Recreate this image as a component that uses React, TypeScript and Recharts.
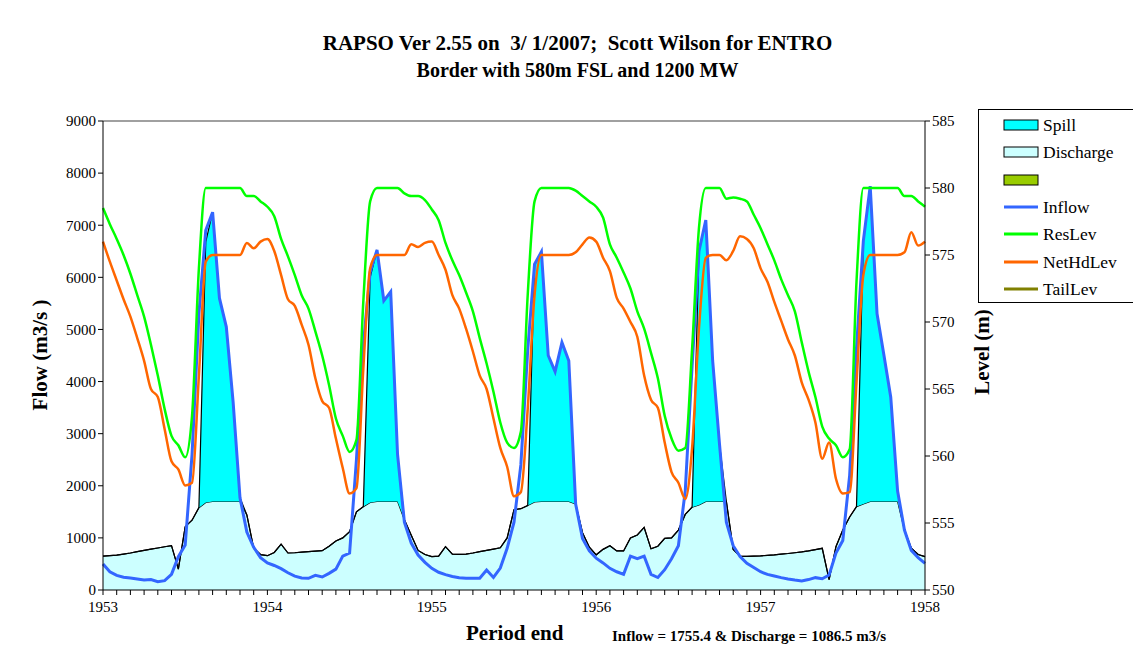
import React from 'react';
import { ComposedChart, Area, Line, XAxis, YAxis, ReferenceLine } from 'recharts';

// semi-monthly periods, 1953.0 .. 1958.0
const years = [1953, 1954, 1955, 1956, 1957, 1958];
const periodsPerYear = 24;

const flowTicks = [0, 1000, 2000, 3000, 4000, 5000, 6000, 7000, 8000, 9000];
const levelTicks = [550, 555, 560, 565, 570, 575, 580, 585];

// Inflow (m3/s)
const inflow = [
  500, 350, 280, 245, 230, 210, 190, 200, 160, 180, 300, 640, 864, 2600, 5300, 6900, 7250, 5600, 5050, 3600, 1770, 1110, 820, 620,
  520, 470, 410, 330, 265, 230, 225, 280, 250, 320, 400, 650, 710, 2500, 4700, 6100, 6525, 5550, 5725, 2600, 1300, 900, 672, 530,
  416, 340, 295, 260, 235, 224, 224, 224, 384, 240, 420, 800, 1300, 2400, 4600, 6250, 6490, 4500, 4190, 4750, 4400, 1650, 990, 750,
  610, 520, 416, 350, 300, 650, 600, 650, 300, 240, 390, 600, 850, 1900, 4300, 6500, 7100, 4400, 2800, 1300, 850, 640, 512, 430,
  350, 300, 270, 237, 210, 190, 173, 200, 237, 215, 288, 710, 950, 2200, 4640, 6700, 7750, 5300, 4510, 3700, 1900, 1150, 760, 620, 512,
];

// Turbine discharge (m3/s)
const discharge = [
  650, 660, 670, 690, 710, 735, 760, 785, 806, 830, 850, 400, 1215, 1340, 1580, 1680, 1700, 1700, 1700, 1700, 1700, 1440, 800, 680,
  658, 720, 880, 710, 715, 725, 735, 745, 755, 840, 940, 1000, 1119, 1500, 1600, 1680, 1700, 1700, 1700, 1700, 1350, 1050, 760, 680,
  640, 650, 832, 690, 685, 690, 710, 735, 760, 785, 810, 1000, 1540, 1560, 1620, 1690, 1700, 1700, 1700, 1700, 1700, 1650, 1100, 820,
  675, 780, 850, 750, 750, 1000, 1055, 1200, 790, 840, 990, 1000, 1150, 1450, 1590, 1630, 1700, 1700, 1700, 1700, 780, 650, 645, 650,
  655, 665, 675, 690, 700, 715, 730, 750, 775, 800, 200, 830, 1150, 1400, 1600, 1650, 1700, 1700, 1700, 1700, 1700, 1150, 800, 680, 640,
];

// Spill (m3/s)
const spill = [
  0, 0, 0, 0, 0, 0, 0, 0, 0, 0, 0, 0, 0, 0, 0, 5000, 5550, 3900, 3350, 1900, 70, 0, 0, 0,
  0, 0, 0, 0, 0, 0, 0, 0, 0, 0, 0, 0, 0, 0, 0, 4320, 4825, 3850, 4025, 900, 0, 0, 0, 0,
  0, 0, 0, 0, 0, 0, 0, 0, 0, 0, 0, 0, 0, 0, 0, 4560, 4790, 2800, 2490, 3050, 2700, 0, 0, 0,
  0, 0, 0, 0, 0, 0, 0, 0, 0, 0, 0, 0, 0, 0, 0, 4870, 5400, 2700, 1100, 0, 0, 0, 0, 0,
  0, 0, 0, 0, 0, 0, 0, 0, 0, 0, 0, 0, 0, 0, 0, 5050, 6050, 3600, 2810, 2000, 200, 0, 0, 0, 0,
];

// Reservoir level (m)
const resLev = [
  578.5, 577.3, 576.2, 575.0, 573.6, 572.0, 570.4, 568.3, 566.0, 563.5, 561.5, 560.8, 559.9, 563.0, 574.0, 580.0, 580.0, 580.0, 580.0, 580.0, 580.0, 579.4, 579.4, 579.0,
  578.6, 577.9, 576.2, 574.9, 573.5, 572.0, 571.0, 569.3, 567.5, 565.3, 562.8, 561.5, 560.3, 561.2, 571.5, 579.0, 580.0, 580.0, 580.0, 580.0, 579.6, 579.4, 579.4, 579.1,
  578.4, 577.6, 575.9, 574.6, 573.5, 572.2, 570.8, 568.8, 566.9, 564.8, 562.5, 561.0, 560.6, 561.8, 572.0, 579.0, 580.0, 580.0, 580.0, 580.0, 580.0, 579.8, 579.4, 579.0,
  578.6, 577.8, 575.8, 574.8, 573.7, 572.5, 570.8, 569.5, 567.7, 565.8, 563.0, 561.3, 560.4, 560.6, 568.0, 577.0, 580.0, 580.0, 580.0, 579.2, 579.3, 579.2, 579.0, 578.0,
  577.0, 575.8, 574.6, 573.2, 572.0, 570.8, 568.5, 566.3, 564.4, 562.2, 561.3, 560.8, 559.9, 560.5, 573.0, 580.0, 580.0, 580.0, 580.0, 580.0, 580.0, 579.4, 579.4, 579.0, 578.6,
];

// Net head level (m)
const netHdLev = [
  576.0, 574.5, 573.1, 571.7, 570.4, 568.8, 567.1, 565.0, 564.4, 562.0, 559.6, 559.0, 557.8, 558.0, 566.0, 574.5, 575.0, 575.0, 575.0, 575.0, 575.0, 575.9, 575.5, 576.0,
  576.2, 575.3, 573.5, 571.7, 571.2, 569.8, 568.3, 565.8, 564.1, 563.6, 561.3, 559.1, 557.2, 557.6, 566.5, 574.0, 575.0, 575.0, 575.0, 575.0, 575.0, 575.8, 575.6, 575.9,
  576.0, 575.0, 573.9, 572.0, 571.0, 569.5, 567.8, 566.0, 565.0, 562.8, 560.6, 559.2, 557.0, 557.3, 563.5, 572.0, 575.0, 575.0, 575.0, 575.0, 575.0, 575.2, 575.8, 576.3,
  576.0, 574.8, 573.8, 571.8, 571.0, 570.0, 568.9, 566.0, 564.2, 563.6, 561.0, 558.8, 558.0, 556.8, 560.6, 569.5, 574.8, 575.0, 575.0, 574.6, 575.3, 576.4, 576.2, 575.5,
  574.0, 573.0, 571.5, 570.1, 568.7, 567.5, 565.5, 564.2, 562.5, 559.8, 561.0, 558.3, 557.2, 557.3, 565.5, 573.5, 575.0, 575.0, 575.0, 575.0, 575.0, 575.2, 576.7, 575.7, 576.0,
];

const legendItems = [
  { name: 'Spill', kind: 'box', color: '#00FFFF' },
  { name: 'Discharge', kind: 'box', color: '#CCFFFF' },
  { name: '', kind: 'box', color: '#99CC00' },
  { name: 'Inflow', kind: 'line', color: '#3366FF' },
  { name: 'ResLev', kind: 'line', color: '#00FF00' },
  { name: 'NetHdLev', kind: 'line', color: '#FF6600' },
  { name: 'TailLev', kind: 'line', color: '#808000' },
];

const data = inflow.map((q, i) => ({
  t: years[0] + i / periodsPerYear,
  inflow: q,
  discharge: discharge[i],
  spill: spill[i],
  resLev: resLev[i],
  netHdLev: netHdLev[i],
}));

// monthly minor ticks, labels only on whole years
const monthTicks = Array.from({ length: (years.length - 1) * 12 + 1 }, (_, k) => years[0] + k / 12);

const FONT = '"Liberation Serif", "Times New Roman", serif';

const abs = (left: number, top: number): React.CSSProperties => ({
  position: 'absolute',
  left,
  top,
  fontFamily: FONT,
  color: '#000',
  whiteSpace: 'pre',
});

// serif tick text
const serifTick = (fmt: (v: number) => string) => (props: any) => {
  const { x, y, payload, textAnchor, verticalAnchor } = props;
  const dy = verticalAnchor === 'start' ? '0.71em' : verticalAnchor === 'end' ? '0' : '0.355em';
  return (
    <text x={x} y={y} dy={dy} textAnchor={textAnchor} fill="#000" fontSize={15} fontFamily={FONT} style={{ fontFamily: FONT }}>
      {fmt(payload.value)}
    </text>
  );
};

function Legend() {
  return (
    <div style={{ position: 'absolute', left: 978, top: 109, width: 170, height: 192, border: '1px solid #000', background: '#fff' }}>
      {legendItems.map((it, i) => {
        const cy = 15 + i * 27.3;
        return (
          <div key={i} style={{ position: 'absolute', left: 0, top: cy - 12, height: 24, width: 170 }}>
            <svg width={40} height={24} style={{ position: 'absolute', left: 23, top: 0 }}>
              {it.kind === 'box' ? (
                <rect x={2} y={7} width={34} height={10} fill={it.color} stroke="#000" strokeWidth={1} />
              ) : (
                <line x1={2} x2={36} y1={12} y2={12} stroke={it.color} strokeWidth={3} />
              )}
            </svg>
            <span style={{ position: 'absolute', left: 64, top: 1, fontFamily: FONT, fontSize: 17.5, lineHeight: '22px' }}>{it.name}</span>
          </div>
        );
      })}
    </div>
  );
}

export default function App() {
  return (
    <div style={{ position: 'fixed', left: 0, top: 0, width: 1133, height: 672, overflow: 'hidden', background: '#fff', fontFamily: FONT }}>
      <div style={{ ...abs(11, 33), width: 1133, textAlign: 'center', fontSize: 21, lineHeight: '20px', fontWeight: 'bold' }}>
        {'RAPSO Ver 2.55 on  3/ 1/2007;  Scott Wilson for ENTRO'}
      </div>
      <div style={{ ...abs(11, 60), width: 1133, textAlign: 'center', fontSize: 20, lineHeight: '20px', fontWeight: 'bold' }}>
        {'Border with 580m FSL and 1200 MW'}
      </div>

      <ComposedChart width={1133} height={672} data={data} margin={{ top: 121, right: 158, bottom: 52, left: 43 }}>
        <XAxis
          dataKey="t"
          type="number"
          domain={[years[0], years[years.length - 1]]}
          ticks={monthTicks}
          interval={0}
          tick={serifTick((v) => (Number.isInteger(v) ? String(v) : ''))}
          tickSize={5}
          tickMargin={6}
          stroke="#000"
          height={30}
        />
        <YAxis
          yAxisId="flow"
          domain={[0, 9000]}
          ticks={flowTicks}
          interval={0}
          tick={serifTick((v) => String(v))}
          tickSize={5}
          stroke="#000"
          width={60}
        />
        <YAxis
          yAxisId="lev"
          orientation="right"
          domain={[550, 585]}
          ticks={levelTicks}
          interval={0}
          allowDataOverflow
          tick={serifTick((v) => String(v))}
          tickSize={5}
          stroke="#000"
          width={50}
        />
        <ReferenceLine yAxisId="flow" y={9000} stroke="#808080" strokeWidth={1.5} />
        <Area yAxisId="flow" type="linear" dataKey="discharge" stackId="q" fill="#CCFFFF" fillOpacity={1} stroke="#000" strokeWidth={1.2} isAnimationActive={false} />
        <Area yAxisId="flow" type="linear" dataKey="spill" stackId="q" fill="#00FFFF" fillOpacity={1} stroke="#000" strokeWidth={1.2} isAnimationActive={false} />
        <Line yAxisId="flow" type="linear" dataKey="inflow" stroke="#3366FF" strokeWidth={3} dot={false} isAnimationActive={false} />
        <Line yAxisId="lev" type="monotone" dataKey="resLev" stroke="#00FF00" strokeWidth={2.5} dot={false} isAnimationActive={false} />
        <Line yAxisId="lev" type="monotone" dataKey="netHdLev" stroke="#FF6600" strokeWidth={2.5} dot={false} isAnimationActive={false} />
      </ComposedChart>

      <div style={{ ...abs(40, 355), fontSize: 21, fontWeight: 'bold', transform: 'translate(-50%, -50%) rotate(-90deg)' }}>
        {'Flow (m3/s )'}
      </div>
      <div style={{ ...abs(982, 352), fontSize: 21, fontWeight: 'bold', transform: 'translate(-50%, -50%) rotate(-90deg)' }}>
        {'Level (m)'}
      </div>
      <div style={{ ...abs(466, 621), fontSize: 21, lineHeight: '24px', fontWeight: 'bold' }}>{'Period end'}</div>
      <div style={{ ...abs(612, 627), fontSize: 15, lineHeight: '18px', fontWeight: 'bold' }}>
        {'Inflow = 1755.4 & Discharge = 1086.5 m3/s'}
      </div>

      <Legend />
    </div>
  );
}
